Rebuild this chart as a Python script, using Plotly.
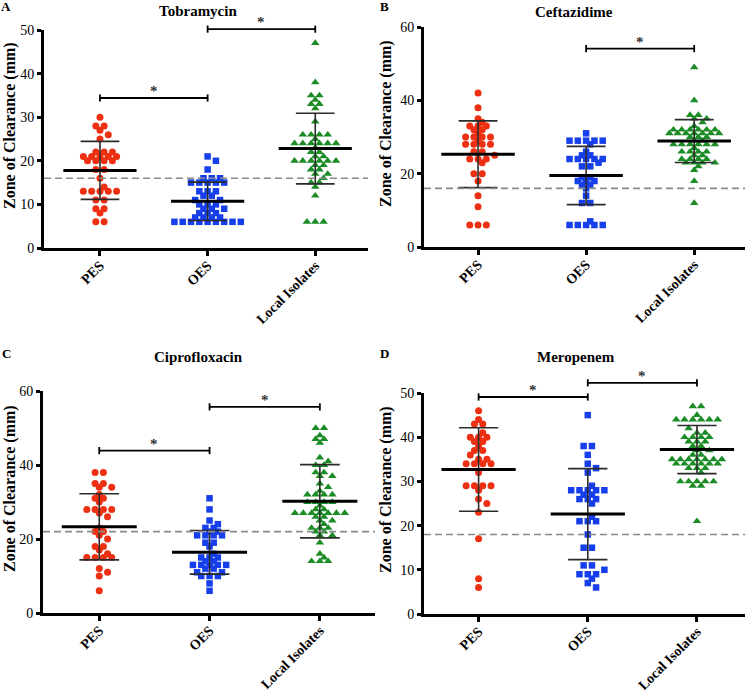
import plotly.graph_objects as go
from collections import Counter

# ---------------- data ----------------
GROUPS = ["PES", "OES", "Local Isolates"]
PANEL_LETTERS = ["A", "B", "C", "D"]
PANEL_TITLES = ["Tobramycin", "Ceftazidime", "Ciprofloxacin", "Meropenem"]
Y_LABEL = "Zone of Clearance (mm)"

tob_pes = [30, 28, 28, 27, 26, 25, 22, 22, 22, 21, 21, 21, 21, 21, 20, 20, 20, 20, 18, 18,
           16, 14, 13, 13, 13, 13, 13, 11, 11, 9, 9, 8, 6, 6]
tob_oes = [21, 20, 18, 16, 16, 16, 15, 15, 15, 15, 15, 13, 13, 13, 12, 12, 11, 11, 10, 10,
           10, 9, 9, 9, 8, 8, 8, 7, 7, 7, 7, 6, 6, 6, 6, 6, 6, 6, 6, 6]
tob_loc = [47, 38, 35, 35, 34, 33, 33, 32, 29, 26, 26, 26, 26, 25, 24, 24, 24, 24, 24, 24,
           23, 22, 22, 21, 21, 20, 20, 20, 20, 20, 20, 19, 19, 18, 18, 17, 17, 16, 15, 15,
           14, 12, 6, 6, 6]

cef_pes = [42, 38, 35, 34, 33, 33, 33, 32, 32, 31, 30, 30, 30, 30, 29, 28, 28, 28, 28, 26,
           26, 25, 24, 24, 24, 23, 20, 20, 18, 14, 11, 6, 6, 6]
cef_oes = [31, 29, 29, 29, 29, 29, 28, 26, 25, 25, 24, 24, 24, 24, 24, 23, 22, 22, 19, 19,
           18, 18, 18, 17, 17, 16, 14, 12, 12, 7, 6, 6, 6, 6, 6]
cef_loc = [49, 40, 36, 36, 35, 35, 34, 33, 32, 32, 32, 32, 32, 32, 31, 31, 31, 31, 31, 31,
           31, 30, 30, 30, 29, 29, 28, 28, 28, 28, 28, 28, 27, 26, 26, 26, 26, 25, 25, 24,
           24, 24, 24, 23, 23, 23, 23, 22, 21, 18, 12]

cip_pes = [38, 38, 35, 35, 34, 34, 32, 31, 31, 30, 28, 28, 28, 28, 27, 26, 23, 22, 22, 21,
           20, 18, 18, 17, 16, 15, 15, 15, 15, 12, 11, 10, 6]
cip_oes = [31, 28, 25, 24, 23, 23, 22, 22, 21, 21, 21, 21, 19, 19, 18, 16, 15, 15, 15, 14,
           14, 13, 13, 13, 13, 13, 12, 12, 11, 11, 10, 10, 10, 8, 6]
cip_loc = [50, 50, 48, 47, 47, 46, 42, 41, 40, 40, 38, 38, 37, 37, 35, 34, 33, 32, 32, 32,
           32, 30, 30, 30, 30, 29, 28, 28, 27, 27, 27, 27, 27, 27, 27, 26, 26, 25, 25, 24,
           23, 23, 23, 22, 22, 21, 21, 19, 16, 15, 14, 14, 14]

mer_pes = [46, 44, 43, 43, 41, 40, 40, 40, 39, 39, 38, 37, 37, 36, 35, 35, 34, 34, 34, 34,
           32, 29, 29, 29, 29, 28, 26, 25, 23, 17, 8, 6]
mer_oes = [45, 38, 38, 36, 34, 33, 32, 29, 28, 28, 28, 28, 28, 27, 27, 26, 26, 26, 25, 22,
           21, 21, 21, 18, 15, 15, 11, 11, 10, 9, 9, 9, 8, 7, 6]
mer_loc = [47, 47, 45, 44, 44, 44, 44, 44, 44, 42, 41, 41, 40, 40, 40, 40, 39, 39, 39, 38,
           38, 37, 37, 36, 36, 35, 35, 35, 35, 35, 35, 35, 34, 34, 34, 34, 34, 34, 33, 33,
           33, 32, 30, 30, 30, 30, 30, 29, 29, 21]

DATA = [[tob_pes, tob_oes, tob_loc],
        [cef_pes, cef_oes, cef_loc],
        [cip_pes, cip_oes, cip_loc],
        [mer_pes, mer_oes, mer_loc]]

# mean and SD as drawn in the figure
MEANS = [[17.8, 10.7, 22.8], [25.3, 19.5, 28.9], [23.3, 16.4, 30.2], [32.7, 22.6, 37.2]]
SDS = [[6.65, 4.4, 8.1], [9.1, 7.95, 5.85], [8.95, 5.9, 9.9], [9.45, 10.3, 5.45]]
CUTOFFS = [16, 16, 22, 18]
Y_MAX = [50, 60, 60, 50]
Y_STEP = [10, 20, 20, 10]
# significance comparisons: (group a, group b, bar height in mm)
SIG_BARS = [[(0, 1, 34.4), (1, 2, 50.2)],
            [(1, 2, 54.1)],
            [(0, 1, 43.9), (1, 2, 55.7)],
            [(0, 1, 49.1), (1, 2, 52.3)]]

# ---------------- layout geometry (pixels) ----------------
W, H = 750, 695
PLOT_X = [(44, 368), (424, 745), (43, 375), (424, 745)]
PLOT_Y = [(30, 248), (27, 247), (391, 613), (393, 614)]  # top, bottom
X_RANGE = [(-0.52, 2.49), (-0.5, 2.47), (-0.51, 2.5), (-0.5, 2.44)]
TITLE_POS = [(198, 11), (574, 12), (198, 357), (576, 357)]
LETTER_POS = [(6, 7), (384, 7), (6, 353), (384, 353)]
YLAB_POS = [(10, 126), (386, 124), (10, 489), (386, 490)]

COLORS = ["rgb(238,48,18)", "rgb(22,62,235)", "rgb(28,140,38)"]
SYMBOLS = ["circle", "square", "triangle-up"]
SIZES = [7, 6.5, 7.5]
FONT = "Liberation Serif"


def swarm_offsets(values, ppu, spacing=8.3, min_dist=5.0):
    cnt = Counter(values)
    order = sorted(cnt, key=lambda v: (-cnt[v], -v))
    placed = []
    res = {}
    for v in order:
        n = cnt[v]
        even = (n % 2 == 0)

        def cost(k):
            odd_k = (k % 2 == 1)
            return (abs(k) + (0 if odd_k == even else 1.5), -k)

        ks = sorted(range(-60, 61), key=cost)
        xs = []
        for _ in range(n):
            for k in ks:
                x = k * spacing / 2
                ok = True
                for (v2, x2) in placed:
                    dy = abs(v - v2) * ppu
                    dx = abs(x - x2)
                    if dy < 0.5:
                        if dx < spacing - 0.01:
                            ok = False
                            break
                    elif (dx * dx + dy * dy) ** 0.5 < min_dist:
                        ok = False
                        break
                if ok:
                    placed.append((v, x))
                    xs.append(x)
                    break
        res[v] = xs
    used = {v: 0 for v in cnt}
    out = []
    for v in values:
        out.append(res[v][used[v]])
        used[v] += 1
    return out


fig = go.Figure()
shapes = []
annotations = []
layout = {}

for p in range(4):
    n = "" if p == 0 else str(p + 1)
    xa, ya = "x" + n, "y" + n
    x0, x1 = PLOT_X[p]
    yt, yb = PLOT_Y[p]
    plot_w, plot_h = x1 - x0, yb - yt
    ppu = plot_h / Y_MAX[p]
    ppx = plot_w / (X_RANGE[p][1] - X_RANGE[p][0])

    for g in range(3):
        vals = DATA[p][g]
        offs = swarm_offsets(vals, ppu)
        fig.add_trace(go.Scatter(
            x=[g + o / ppx for o in offs], y=vals, mode="markers",
            marker=dict(symbol=SYMBOLS[g], color=COLORS[g], size=SIZES[g], line_width=0),
            xaxis=xa, yaxis=ya, hoverinfo="skip", cliponaxis=False, showlegend=False))

    for g in range(3):
        m, s = MEANS[p][g], SDS[p][g]
        fig.add_trace(go.Scatter(
            x=[g, g, None, g - 0.18, g + 0.18, None, g - 0.18, g + 0.18],
            y=[m - s, m + s, None, m + s, m + s, None, m - s, m - s],
            mode="lines", line=dict(color="#2b2b2b", width=1.6),
            xaxis=xa, yaxis=ya, hoverinfo="skip", showlegend=False))
        fig.add_trace(go.Scatter(
            x=[g - 0.34, g + 0.34], y=[m, m], mode="lines",
            line=dict(color="black", width=3),
            xaxis=xa, yaxis=ya, hoverinfo="skip", showlegend=False))

    # dashed cutoff line
    shapes.append(dict(type="line", xref=xa + " domain", yref=ya, x0=0, x1=1,
                       y0=CUTOFFS[p], y1=CUTOFFS[p], layer="above",
                       line=dict(color="#8a8a8a", width=1.6, dash="7px,4px")))

    # significance bars
    cap = 3.6 / plot_h
    for (a, b, h) in SIG_BARS[p]:
        f = h / Y_MAX[p]
        for (xx0, xx1, yy0, yy1) in [(a, b, f, f), (a, a, f - cap, f + cap), (b, b, f - cap, f + cap)]:
            shapes.append(dict(type="line", xref=xa, yref=ya + " domain",
                               x0=xx0, x1=xx1, y0=yy0, y1=yy1, layer="above",
                               line=dict(color="black", width=1.8)))
        annotations.append(dict(x=(a + b) / 2, y=f, xref=xa, yref=ya + " domain",
                                text="<b>*</b>", showarrow=False, yanchor="bottom", yshift=-3,
                                font=dict(family=FONT, size=15, color="#333333")))

    layout["xaxis" + n] = dict(
        domain=[x0 / W, x1 / W], range=list(X_RANGE[p]), anchor=ya, automargin=False,
        tickmode="array", tickvals=[0, 1, 2], ticktext=["<b>%s</b>" % t for t in GROUPS],
        tickangle=-45, showline=True, linewidth=3, linecolor="black",
        ticks="outside", ticklen=5, tickwidth=3, tickcolor="black",
        ticklabelstandoff=-4,
        showgrid=False, zeroline=False,
        tickfont=dict(family=FONT, size=14, color="black"))
    layout["yaxis" + n] = dict(
        domain=[1 - yb / H, 1 - yt / H], range=[0, Y_MAX[p]], anchor=xa, automargin=False,
        tickmode="array", tickvals=list(range(0, Y_MAX[p] + 1, Y_STEP[p])),
        showline=True, linewidth=3, linecolor="black",
        ticks="outside", ticklen=4, tickwidth=3, tickcolor="black",
        showgrid=False, zeroline=False,
        tickfont=dict(family=FONT, size=14, color="black"))

    tx, ty = TITLE_POS[p]
    annotations.append(dict(x=tx / W, y=1 - ty / H, xref="paper", yref="paper",
                            text="<b>%s</b>" % PANEL_TITLES[p], showarrow=False,
                            xanchor="center", yanchor="middle",
                            font=dict(family=FONT, size=15, color="black")))
    lx, ly = LETTER_POS[p]
    annotations.append(dict(x=lx / W, y=1 - ly / H, xref="paper", yref="paper",
                            text="<b>%s</b>" % PANEL_LETTERS[p], showarrow=False,
                            xanchor="center", yanchor="middle",
                            font=dict(family=FONT, size=13, color="black")))
    yx, yy = YLAB_POS[p]
    annotations.append(dict(x=yx / W, y=1 - yy / H, xref="paper", yref="paper",
                            text="<b>%s</b>" % Y_LABEL, showarrow=False, textangle=-90,
                            xanchor="center", yanchor="middle",
                            font=dict(family=FONT, size=16, color="black")))

fig.update_layout(template="none", width=W, height=H,
                  margin=dict(l=0, r=0, t=0, b=0, pad=0), autosize=False,
                  paper_bgcolor="white", plot_bgcolor="white",
                  font=dict(family=FONT, color="black"),
                  showlegend=False, hovermode=False,
                  shapes=shapes, annotations=annotations, **layout)

fig.write_html("out.html", config={"displayModeBar": False},
               post_script="document.body.style.margin='0px';")
